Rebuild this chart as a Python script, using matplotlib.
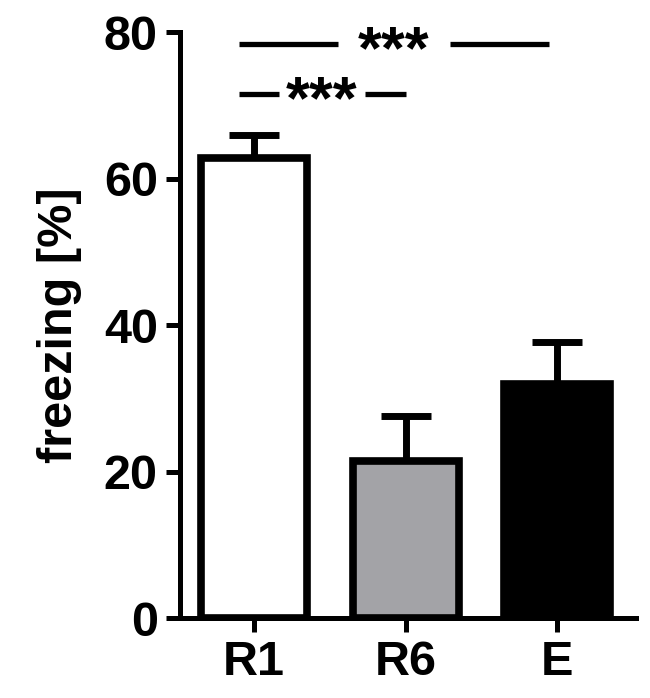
import numpy as np
import matplotlib
matplotlib.use("Agg")
from matplotlib import pyplot as plt

groups = ["R1", "R6", "E"]
means = [62.8, 21.5, 32.0]
sem = [3.2, 6.1, 5.7]
colors = ["white", "#a3a3a7", "black"]

# significance lines: x start, x end, y, gap left, gap right
sig_lines = [(-0.1, 1.95, 78.3, 0.556, 1.29), (-0.1, 1.0, 71.5, 0.166, 0.73)]

plt.rcParams['font.family'] = ['Liberation Sans', 'DejaVu Sans']
plt.rcParams['font.weight'] = 'bold'

fig = plt.figure(figsize=(6.5, 6.98), dpi=100)
ax = fig.add_axes([0.277, 0.1146, 0.701, 0.8395])

x = np.arange(len(groups))
ax.bar(x, means, width=0.7, color=colors, edgecolor="black", linewidth=5.5, zorder=2)
ax.errorbar(x, means, yerr=[np.zeros(len(sem)), sem], fmt="none", ecolor="black",
            elinewidth=5, capsize=18, capthick=5, zorder=1)

for x0, x1, y, g0, g1 in sig_lines:
    ax.plot([x0, g0], [y, y], color="black", lw=3.8, solid_capstyle="butt", clip_on=False)
    ax.plot([g1, x1], [y, y], color="black", lw=3.8, solid_capstyle="butt", clip_on=False)
    ax.text((g0 + g1) / 2, y - 3.2, "***", ha="center", va="baseline",
            fontsize=44, fontweight="bold")

ax.set_xlim(-0.49, 2.52)
ax.set_ylim(0, 80)
ax.set_yticks([0, 20, 40, 60, 80])
ax.set_xticks(x)
ax.set_xticklabels(groups)
ax.set_ylabel("freezing [%]", fontsize=35, fontweight="bold", labelpad=16)
ax.tick_params(axis="both", labelsize=35, width=3.6, length=10, pad=6)
for side in ["top", "right"]:
    ax.spines[side].set_visible(False)
for side in ["left", "bottom"]:
    ax.spines[side].set_linewidth(3.6)

fig.savefig("out.png", dpi=100)
